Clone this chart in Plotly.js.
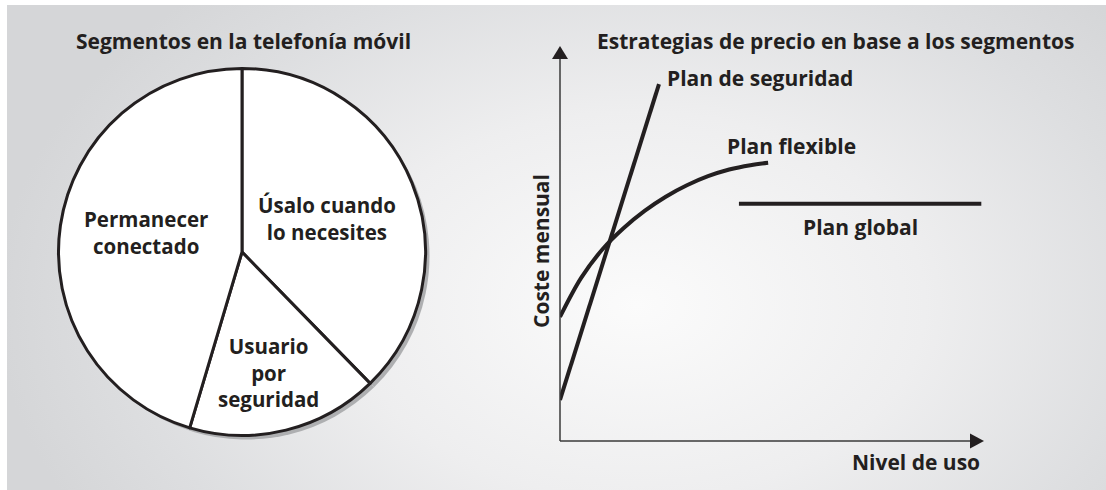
<!DOCTYPE html>
<html>
<head>
<meta charset="utf-8">
<script src="https://cdn.plot.ly/plotly-3.0.1.min.js"></script>
<style>
  body { margin: 0; background: #ffffff; }
  #wrap { position: relative; width: 1106px; height: 490px; overflow: hidden; }
  #panel {
    position: absolute; left: 7px; top: 5px; right: 0; bottom: 0;
    background: radial-gradient(ellipse 640px 430px at 630px 300px, #fbfbfb 0%, #eeeeef 45%, #dddee0 80%, #d5d6d8 100%);
  }
  #chart { position: absolute; left: 0; top: 0; width: 1106px; height: 490px; }
</style>
</head>
<body>
<div id="wrap">
  <div id="panel"></div>
  <div id="chart"></div>
</div>
<script>
// Pie: segments of mobile telephony (share of circle, %)
const segmentos = ['Úsalo cuando lo necesites', 'Usuario por seguridad', 'Permanecer conectado'];
const cuotas = [37.7, 16.9, 45.4];
const etiquetas = ['Úsalo cuando<br>lo necesites', 'Usuario<br>por<br>seguridad', 'Permanecer<br>conectado'];

// Price strategies (usage level vs monthly cost, 0-100 schematic units)
const seguridadX = [0, 23.4];
const seguridadY = [10.4, 90.6];
const flexibleX = [0, 5, 10, 15, 20, 25, 30, 35, 40, 45, 49.2];
const flexibleY = [31.5, 41.4, 48.6, 54.0, 58.4, 62.0, 64.9, 67.2, 68.9, 70.0, 70.6];
const globalX = [42.3, 99.6];
const globalY = [60.2, 60.2];

const W = 1106, H = 490;
const px = x => x / W;
const py = y => 1 - y / H;
const INK = '#231f20';
const FONT = { family: 'Open Sans, Noto Sans, sans-serif', size: 21, color: INK, weight: 700 };
const FONT_PIE = Object.assign({}, FONT, { size: 20.5 });

// pie geometry (pixels)
const pieR = 183.5, pieCx = 242, pieCy = 252;

const shadow = {
    type: 'pie',
    values: cuotas,
    sort: false,
    direction: 'clockwise',
    textinfo: 'none',
    hoverinfo: 'skip',
    marker: { colors: ['#aeafb1', '#aeafb1', '#aeafb1'], line: { width: 0 } },
    domain: { x: [px(pieCx + 4 - pieR), px(pieCx + 4 + pieR)], y: [py(pieCy + 4 + pieR), py(pieCy + 4 - pieR)] },
    showlegend: false
};

const pie = {
    type: 'pie',
    values: cuotas,
    labels: segmentos,
    sort: false,
    direction: 'clockwise',
    textinfo: 'none',
    marker: { colors: ['#ffffff', '#ffffff', '#ffffff'], line: { color: INK, width: 3 } },
    domain: { x: [px(pieCx - pieR), px(pieCx + pieR)], y: [py(pieCy + pieR), py(pieCy - pieR)] },
    showlegend: false
};

const lineStyle = { color: INK, width: 4 };
const traces = [
    shadow, pie,
    { x: seguridadX, y: seguridadY, type: 'scatter', mode: 'lines', line: lineStyle, name: 'Plan de seguridad', showlegend: false, cliponaxis: false },
    { x: flexibleX, y: flexibleY, type: 'scatter', mode: 'lines', line: Object.assign({ shape: 'spline', smoothing: 1 }, lineStyle), name: 'Plan flexible', showlegend: false, cliponaxis: false },
    { x: globalX, y: globalY, type: 'scatter', mode: 'lines', line: lineStyle, name: 'Plan global', showlegend: false, cliponaxis: false }
];

// pie label centres (pixels)
const etiquetaPos = [[327, 218], [268, 372], [146, 232]];

const annotations = [
    { text: 'Segmentos en la telefonía móvil', x: px(243), y: py(41), xanchor: 'center' },
    { text: 'Estrategias de precio en base a los segmentos', x: px(595), y: py(41), xanchor: 'left' },
    { text: 'Plan de seguridad', x: px(665), y: py(78), xanchor: 'left' },
    { text: 'Plan flexible', x: px(791), y: py(146), xanchor: 'center' },
    { text: 'Plan global', x: px(860), y: py(227), xanchor: 'center' },
    { text: 'Nivel de uso', x: px(982), y: py(462), xanchor: 'right' },
    { text: 'Coste mensual', x: px(541), y: py(251), xanchor: 'center', textangle: -90 }
].map(a => Object.assign(a, { font: FONT }))
 .concat(etiquetas.map((t, i) => ({ text: t, x: px(etiquetaPos[i][0]), y: py(etiquetaPos[i][1]), xanchor: 'center', font: FONT_PIE })));

annotations.forEach(a => {
    a.xref = 'paper'; a.yref = 'paper'; a.yanchor = 'middle';
    a.showarrow = false;
});

// axis lines and arrowheads (pixels)
const axisX0 = 560, axisY0 = 441;
const shapes = [
    { type: 'line', x0: px(axisX0), x1: px(axisX0), y0: py(axisY0), y1: py(58) },
    { type: 'line', x0: px(axisX0), x1: px(971), y0: py(axisY0), y1: py(axisY0) },
    { type: 'path', path: `M${px(552)},${py(59)} L${px(568)},${py(59)} L${px(560)},${py(46)} Z`, fillcolor: INK },
    { type: 'path', path: `M${px(970)},${py(433.5)} L${px(970)},${py(448.5)} L${px(984)},${py(441)} Z`, fillcolor: INK }
];
shapes.forEach(s => {
    s.xref = 'paper'; s.yref = 'paper'; s.layer = 'above';
    s.line = { color: '#3a3a3a', width: s.type === 'line' ? 1.5 : 0 };
});

const layout = {
    width: W,
    height: H,
    margin: { l: 0, r: 0, t: 0, b: 0 },
    paper_bgcolor: 'rgba(0,0,0,0)',
    plot_bgcolor: 'rgba(0,0,0,0)',
    showlegend: false,
    xaxis: { domain: [px(axisX0), px(983)], range: [0, 100], visible: false, fixedrange: true },
    yaxis: { domain: [py(axisY0), py(47)], range: [0, 100], visible: false, fixedrange: true },
    annotations: annotations,
    shapes: shapes
};

Plotly.newPlot('chart', traces, layout, { displayModeBar: false, staticPlot: true });
</script>
</body>
</html>
